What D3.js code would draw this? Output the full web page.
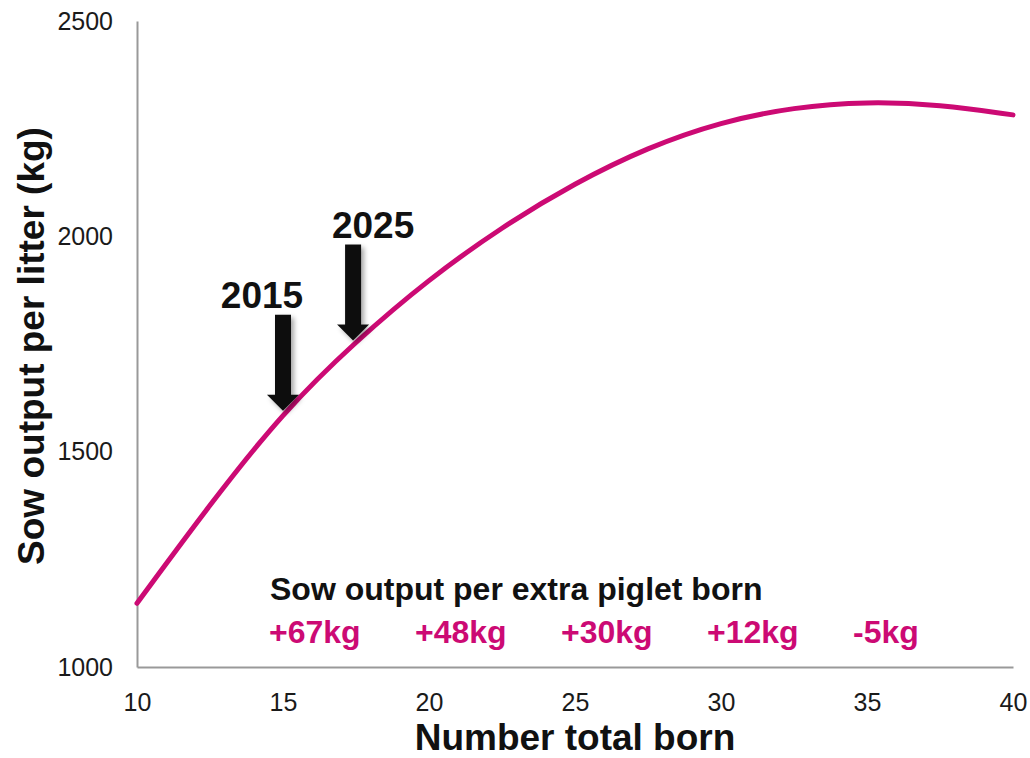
<!DOCTYPE html>
<html>
<head>
<meta charset="utf-8">
<script src="https://cdn.jsdelivr.net/npm/d3@7"></script>
<style>
  body { margin: 0; background: #fff; }
  text { font-family: "Liberation Sans", Arial, sans-serif; }
</style>
</head>
<body>
<div class="chart"></div>
<script>
// curve
var bornTotal = [10, 12.5, 15, 17.5, 20, 22.5, 25, 27.5, 30, 32.5, 35, 37.5, 40];
var sowOutput = [1148, 1378, 1592, 1757, 1901, 2022, 2124, 2207, 2266, 2300, 2313, 2306, 2282];

var xTicks = [10, 15, 20, 25, 30, 35, 40];
var yTicks = [1000, 1500, 2000, 2500];

// arrows pointing at the curve
var arrowYears = ["2015", "2025"];
var arrowBorn = [15, 17.4];
var arrowOutput = [1595, 1758];

// output gained per extra piglet
var gainLabels = ["+67kg", "+48kg", "+30kg", "+12kg", "-5kg"];
var gainAt = [15, 20, 25, 30, 35];

var magenta = "#cc0a74";

drawChart();

function drawChart(){
    var w = 1030, h = 758;

    var x = d3.scaleLinear().domain([10, 40]).range([137, 1013]);
    var y = d3.scaleLinear().domain([1000, 2500]).range([667, 21]);

    var svg = d3.select(".chart")
      .append("svg")
      .attr("width", w)
      .attr("height", h);

    //阴影
    var f = svg.append("defs").append("filter")
      .attr("id", "shadow")
      .attr("x", "-50%").attr("y", "-20%")
      .attr("width", "200%").attr("height", "150%");
    f.append("feDropShadow")
      .attr("dx", 3).attr("dy", 3)
      .attr("stdDeviation", 2.5)
      .attr("flood-color", "#000")
      .attr("flood-opacity", 0.35);

    //坐标轴
    var xAxis = svg.append("g")
      .attr("transform", "translate(0," + y(1000) + ")")
      .call(d3.axisBottom(x).tickValues(xTicks).tickFormat(d3.format("d")).tickSize(0).tickPadding(26));
    var yAxis = svg.append("g")
      .attr("transform", "translate(" + x(10) + ",0)")
      .call(d3.axisLeft(y).tickValues(yTicks).tickFormat(d3.format("d")).tickSize(0).tickPadding(24));

    [xAxis, yAxis].forEach(function(a){
      a.select(".domain").attr("stroke", "#999").attr("stroke-width", 2);
      a.selectAll("text")
        .attr("font-size", 25)
        .attr("fill", "#1a1a1a");
    });

    //曲线
    var line = d3.line()
      .x(function(d, i) { return x(bornTotal[i]); })
      .y(function(d) { return y(d); })
      .curve(d3.curveBasis);

    svg.append("path")
      .datum(sowOutput)
      .attr("d", line)
      .attr("fill", "none")
      .attr("stroke", magenta)
      .attr("stroke-width", 5)
      .attr("stroke-linecap", "round");

    //箭头
    arrowYears.forEach(function(yr, i){
      var cx = x(arrowBorn[i]);
      var tip = y(arrowOutput[i]);
      var top = tip - 96;
      var path = "M" + (cx - 8) + "," + top +
        " L" + (cx + 8) + "," + top +
        " L" + (cx + 8) + "," + (tip - 16) +
        " L" + (cx + 16) + "," + (tip - 16) +
        " L" + cx + "," + tip +
        " L" + (cx - 16) + "," + (tip - 16) +
        " L" + (cx - 8) + "," + (tip - 16) + " Z";
      svg.append("path")
        .attr("d", path)
        .attr("fill", "#111")
        .attr("filter", "url(#shadow)");
      svg.append("text")
        .attr("x", cx + (i == 0 ? -21 : 20))
        .attr("y", top - 7)
        .attr("text-anchor", "middle")
        .attr("font-size", 37)
        .attr("font-weight", "bold")
        .attr("fill", "#111")
        .text(yr);
    });

    //说明文字
    svg.append("text")
      .attr("x", 270)
      .attr("y", 600)
      .attr("font-size", 32)
      .attr("font-weight", "bold")
      .attr("fill", "#111")
      .text("Sow output per extra piglet born");

    svg.selectAll(".gain")
      .data(gainLabels)
      .enter()
      .append("text")
      .attr("class", "gain")
      .attr("x", function(d, i) { return x(gainAt[i]) - 14; })
      .attr("y", 643)
      .attr("font-size", 32)
      .attr("font-weight", "bold")
      .attr("fill", magenta)
      .text(function(d) { return d; });

    //轴标题
    svg.append("text")
      .attr("x", 575)
      .attr("y", 750)
      .attr("text-anchor", "middle")
      .attr("font-size", 37)
      .attr("font-weight", "bold")
      .attr("fill", "#111")
      .text("Number total born");

    svg.append("text")
      .attr("transform", "translate(44,346) rotate(-90)")
      .attr("text-anchor", "middle")
      .attr("font-size", 37)
      .attr("font-weight", "bold")
      .attr("fill", "#111")
      .text("Sow output per litter (kg)");
}
</script>
</body>
</html>
